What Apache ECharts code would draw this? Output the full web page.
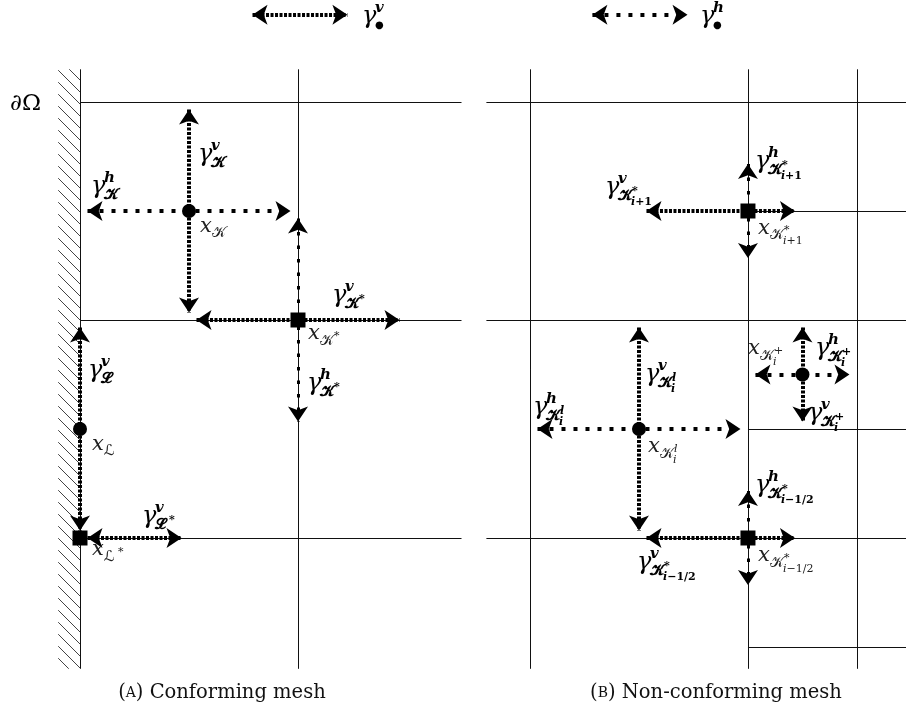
<!DOCTYPE html>
<html><head><meta charset="utf-8">
<script src="https://cdn.jsdelivr.net/npm/echarts@6/dist/echarts.min.js"></script>
<style>html,body{margin:0;padding:0;background:#fff}#c{width:906px;height:711px}</style>
</head><body><div id="c"></div>
<script>
// ===== DATA (mesh units: one coarse cell = 1) =====
const leftMeshLines = [
  [[0,-0.6],[0,2.15]], [[1,-0.6],[1,2.15]],
  [[0,0],[1.75,0]], [[0,1],[1.75,1]], [[0,2],[1.75,2]]
];
const rightMeshLines = [
  [[0,-0.6],[0,2.15]], [[1,-0.6],[1,2.15]], [[1.5,-0.6],[1.5,2.15]],
  [[-0.2,2],[1.725,2]], [[-0.2,1],[1.725,1]], [[-0.2,0],[1.725,0]],
  [[1,1.5],[1.725,1.5]], [[1,0.5],[1.725,0.5]], [[1,-0.5],[1.725,-0.5]]
];
const wallRegion = [[-0.1,-0.6,0,2.15]];
const leftCellCenters = [[0.5,1.5],[0,0.5]];
const leftVertices = [[1,1],[0,0]];
const rightCellCenters = [[0.5,0.5],[1.25,0.75]];
const rightVertices = [[1,1.5],[1,0]];
// gamma^v : densely dotted double arrows
const leftFluxV = [ [[0.5,2],[0.5,1]], [[0.5,1],[1.5,1]], [[0,1],[0,0]], [[0,0],[0.5,0]] ];
const rightFluxV = [ [[0.5,1.5],[1.25,1.5]], [[0.5,1],[0.5,0]], [[1.25,1],[1.25,0.5]], [[0.5,0],[1.25,0]] ];
// gamma^h : loosely dotted double arrows
const leftFluxH = [ [[0,1.5],[1,1.5]] ];
const leftFluxHThin = [ [[1,1.5],[1,0.5]] ];
const rightFluxH = [ [[0,0.5],[1,0.5]], [[1,0.75],[1.5,0.75]] ];
const rightFluxHThin = [ [[1,1.75],[1,1.25]], [[1,0.25],[1,-0.25]] ];
// legend keys
const legendKeyV = [ [[0.757,2.4],[1.261,2.4]] ];
const legendKeyH = [ [[0.252,2.4],[0.757,2.4]] ];

const KB = '𝓚', KN = '𝒦', LB = '𝓛', LN = 'ℒ';
const leftLabels = [
  {p:[-0.321,1.991], plain:'∂Ω'},
  {p:[0.541,1.757], b:'γ', sup:'v', sub:KB},
  {p:[0.050,1.610], b:'γ', sup:'h', sub:KB},
  {p:[0.550,1.417], b:'x', sub:KN},
  {p:[1.156,1.110], b:'γ', sup:'v', sub:KB, ss:'*'},
  {p:[1.046,0.922], b:'x', sub:KN, ss:'*'},
  {p:[1.041,0.706], b:'γ', sup:'h', sub:KB, ss:'*'},
  {p:[0.037,0.766], b:'γ', sup:'v', sub:LB},
  {p:[0.055,0.417], b:'x', sub:LN},
  {p:[0.284,0.096], b:'γ', sup:'v', sub:LB, ss:'*'},
  {p:[0.055,-0.069], b:'x', sub:LN, ss:'*'},
  {p:[1.294,2.390], b:'γ', sup:'v', sub:'●'},
  {p:[0.651,-0.711], cap:'A', text:' Conforming mesh'}
];
const rightLabels = [
  {p:[1.032,1.725], b:'γ', sup:'h', sub:KB, ss:'*', sb:'i+1'},
  {p:[0.344,1.606], b:'γ', sup:'v', sub:KB, ss:'*', sb:'i+1'},
  {p:[1.046,1.408], b:'x', sub:KN, ss:'*', sb:'i+1'},
  {p:[1.000,0.853], b:'x', sub:KN, ss:'+', sb:'i'},
  {p:[1.307,0.867], b:'γ', sup:'h', sub:KB, ss:'+', sb:'i'},
  {p:[0.528,0.748], b:'γ', sup:'v', sub:KB, ss:'l', sb:'i'},
  {p:[0.014,0.596], b:'γ', sup:'h', sub:KB, ss:'l', sb:'i'},
  {p:[0.541,0.404], b:'x', sub:KN, ss:'l', sb:'i'},
  {p:[1.275,0.569], b:'γ', sup:'v', sub:KB, ss:'+', sb:'i'},
  {p:[1.032,0.239], b:'γ', sup:'h', sub:KB, ss:'*', sb:'i−1/2'},
  {p:[0.491,-0.115], b:'γ', sup:'v', sub:KB, ss:'*', sb:'i−1/2'},
  {p:[1.046,-0.096], b:'x', sub:KN, ss:'*', sb:'i−1/2'},
  {p:[0.780,2.390], b:'γ', sup:'h', sub:'●'},
  {p:[0.853,-0.711], cap:'B', text:' Non-conforming mesh'}
];

// ===== LAYOUT =====
const U = 218;                 // px per mesh unit
const OL = [80,538], OR = [530,538];
const XL = [-0.36,1.75], XR = [-0.2,1.725], Y = [-0.75,2.45];
const MF = "'DejaVu Serif', 'DejaVu Sans', serif";
const ARROW = [15,15];

function trim(seg, px){
  const a = seg[0], b = seg[1];
  const dx = b[0]-a[0], dy = b[1]-a[1], len = Math.hypot(dx,dy), t = px/U/len;
  return [[a[0]+dx*t, a[1]+dy*t],[b[0]-dx*t, b[1]-dy*t]];
}
function meshSeries(segs, gi){
  return {type:'lines', coordinateSystem:'cartesian2d', xAxisIndex:gi, yAxisIndex:gi,
    clip:false, silent:true, z:1, symbol:['none','none'],
    lineStyle:{color:'#111', width:1, opacity:1, curveness:0},
    data: segs.map(s=>({coords:s}))};
}
function arrowSeries(segs, gi, width, dash){
  return {type:'lines', coordinateSystem:'cartesian2d', xAxisIndex:gi, yAxisIndex:gi,
    clip:false, silent:true, z:3, symbol:['arrow','arrow'], symbolSize:ARROW,
    itemStyle:{color:'#000', opacity:1},
    lineStyle:{color:'#000', width:width, type:dash, opacity:1, curveness:0, cap:'butt'},
    data: segs.map(s=>({coords:trim(s, ARROW[1]/2)}))};
}
function pointSeries(pts, gi, sym, size){
  return {type:'scatter', xAxisIndex:gi, yAxisIndex:gi, clip:false, silent:true, z:5,
    symbol:sym, symbolSize:size, itemStyle:{color:'#000', opacity:1}, data:pts};
}
function T(x,y,s,size,it,bold,fill){
  return {type:'text', x:x, y:y, silent:true, style:{text:s, fontSize:size, fontFamily:MF,
    fontStyle:it?'italic':'normal', fontWeight:bold?'bold':'normal', fill:fill||'#000',
    align:'left', verticalAlign:'middle'}};
}
function richSub(x,y,s,size,bold,fill){
  const st = {fontSize:size, fontFamily:MF, fontWeight:bold?'bold':'normal', fill:fill};
  const text = s.split('').map(c => /[a-z]/.test(c) ? '{it|'+c+'}' : '{r|'+c+'}').join('');
  return {type:'text', x:x, y:y, silent:true, style:{text:text, fill:fill, align:'left', verticalAlign:'middle',
    fontSize:size, fontFamily:MF,
    rich:{it:Object.assign({fontStyle:'italic'},st), r:Object.assign({fontStyle:'normal'},st)}}};
}
function renderLabel(L, p){
  const x = p[0], y = p[1];
  if (L.plain) return {type:'group', children:[T(x,y,L.plain,23,false,false)]};
  if (L.cap){
    return {type:'group', children:[{type:'text', x:x, y:y, silent:true, style:{
      text:'{n|(}{s|'+L.cap+'}{n|)'+L.text+'}', align:'center', verticalAlign:'middle', fill:'#111',
      rich:{n:{fontSize:19.5, fontFamily:MF, fill:'#111'}, s:{fontSize:14, fontFamily:MF, fill:'#111'}}}}]};
  }
  const g = L.b === 'γ';
  const ch = [];
  const fill = g ? '#000' : '#222';
  const bw = g ? 13 : 12;
  ch.push(T(x, y + (g?0:-3), L.b, g?24:21, true, false, fill));
  if (L.sup) ch.push(T(x+bw, y-9, L.sup, 15, true, true, fill));
  if (L.sub){
    const sx = x + bw, sy = y + (g?8:4);
    ch.push(T(sx, sy, L.sub, L.sub==='●'?10:15, false, g, fill));
    const kw = 14;
    if (L.ss) ch.push(T(sx+kw, sy-5, L.ss, 11, L.ss==='l', g, fill));
    if (L.sb) ch.push(richSub(sx+kw-1, sy+6, L.sb, 11, g, fill));
  }
  return {type:'group', children:ch};
}
function labelSeries(labels, gi){
  return {type:'custom', coordinateSystem:'cartesian2d', xAxisIndex:gi, yAxisIndex:gi, clip:false, silent:true, z:6,
    encode:{x:0, y:1},
    data: labels.map((L,i)=>[L.p[0], L.p[1], i]),
    renderItem: function(params, api){
      const pt = api.coord([api.value(0), api.value(1)]);
      return renderLabel(labels[api.value(2)], pt);
    }};
}
// hatch pattern
const HP = 12;
const pc = document.createElement('canvas'); pc.width = HP; pc.height = HP;
(function(){ const g = pc.getContext('2d'); g.strokeStyle = '#444'; g.lineWidth = 1;
  g.beginPath(); g.moveTo(0,0); g.lineTo(HP,HP); g.moveTo(-2,HP-2); g.lineTo(2,HP+2); g.moveTo(HP-2,-2); g.lineTo(HP+2,2); g.stroke(); })();
const hatchSeries = {type:'custom', coordinateSystem:'cartesian2d', xAxisIndex:0, yAxisIndex:0, clip:false, silent:true, z:0,
  encode:{x:[0,2], y:[1,3]}, data: wallRegion,
  renderItem: function(params, api){
    const a = api.coord([api.value(0), api.value(1)]), b = api.coord([api.value(2), api.value(3)]);
    return {type:'rect', shape:{x:Math.min(a[0],b[0]), y:Math.min(a[1],b[1]), width:Math.abs(b[0]-a[0]), height:Math.abs(b[1]-a[1])},
      style:{fill:{image:pc, repeat:'repeat'}, stroke:null}};
  }};

const grids = [
  {left: OL[0]+XL[0]*U, width:(XL[1]-XL[0])*U, top: OL[1]-Y[1]*U, height:(Y[1]-Y[0])*U},
  {left: OR[0]+XR[0]*U, width:(XR[1]-XR[0])*U, top: OR[1]-Y[1]*U, height:(Y[1]-Y[0])*U}
];
const ax = (mm)=>({type:'value', min:mm[0], max:mm[1], show:false, splitLine:{show:false}, axisLine:{show:false}, axisTick:{show:false}, axisLabel:{show:false}});

const DENSE = [3,1.5], SPARSE = [4,8], SPARSE_THIN = [3.5,10];
const chart = echarts.init(document.getElementById('c'), null, {renderer:'canvas'});
chart.setOption({
  animation:false,
  backgroundColor:'#fff',
  grid: grids,
  xAxis:[Object.assign(ax(XL),{gridIndex:0}), Object.assign(ax(XR),{gridIndex:1})],
  yAxis:[Object.assign(ax(Y),{gridIndex:0}), Object.assign(ax(Y),{gridIndex:1})],
  series:[
    hatchSeries,
    meshSeries(leftMeshLines,0), meshSeries(rightMeshLines,1),
    arrowSeries(leftFluxV,0,4,DENSE), arrowSeries(rightFluxV,1,4,DENSE),
    arrowSeries(leftFluxH,0,4,SPARSE), arrowSeries(rightFluxH,1,4,SPARSE),
    arrowSeries(leftFluxHThin,0,3,SPARSE_THIN), arrowSeries(rightFluxHThin,1,3,SPARSE_THIN),
    arrowSeries(legendKeyV,0,4,DENSE), arrowSeries(legendKeyH,1,4,SPARSE),
    pointSeries(leftCellCenters,0,'circle',14), pointSeries(rightCellCenters,1,'circle',14),
    pointSeries(leftVertices,0,'rect',15), pointSeries(rightVertices,1,'rect',15),
    labelSeries(leftLabels,0), labelSeries(rightLabels,1)
  ]
});
</script></body></html>
